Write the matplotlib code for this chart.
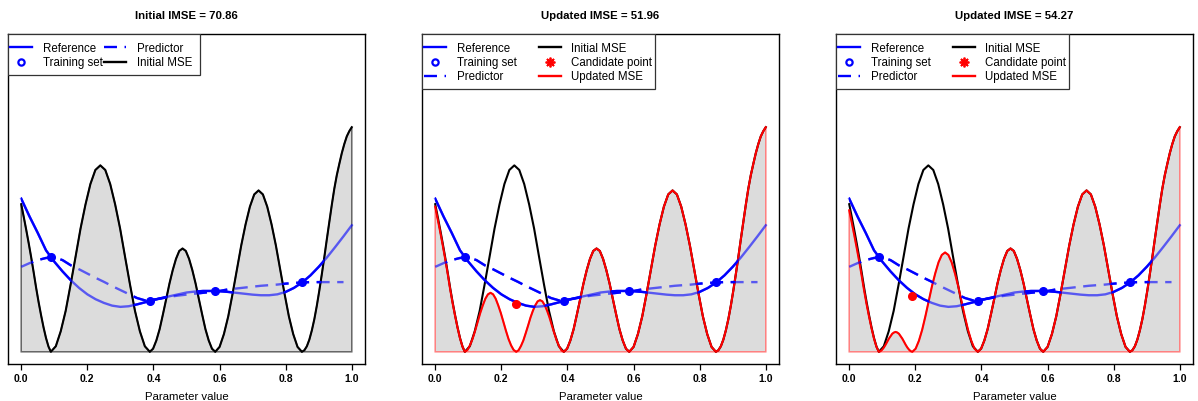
import matplotlib
matplotlib.use("Agg")
import matplotlib.pyplot as plt
from matplotlib.lines import Line2D
import numpy as np

plt.rcParams["font.family"] = ["Liberation Sans", "DejaVu Sans"]

# ---- data (normalised y) ----
titles = ["Initial IMSE = 70.86", "Updated IMSE = 51.96", "Updated IMSE = 54.27"]

train_x = [0.0896, 0.389, 0.587, 0.849]
train_y = [0.310, 0.167, 0.198, 0.227]

cand_x = [0.245, 0.191]
cand_y = [0.155, 0.183]

grid_x = [0.000, 0.025, 0.050, 0.075, 0.100, 0.125, 0.150, 0.175, 0.200, 0.225,
          0.250, 0.275, 0.300, 0.325, 0.350, 0.375, 0.400, 0.425, 0.450, 0.475,
          0.500, 0.525, 0.550, 0.575, 0.600, 0.625, 0.650, 0.675, 0.700, 0.725,
          0.750, 0.775, 0.800, 0.825, 0.850, 0.875, 0.900, 0.925, 0.950, 0.975,
          1.000]
reference = [0.501, 0.443, 0.389, 0.332, 0.295, 0.263, 0.234, 0.209, 0.188, 0.172,
             0.160, 0.151, 0.147, 0.149, 0.155, 0.162, 0.170, 0.176, 0.182, 0.188,
             0.194, 0.197, 0.199, 0.199, 0.198, 0.196, 0.193, 0.190, 0.187, 0.185,
             0.185, 0.188, 0.196, 0.209, 0.227, 0.250, 0.278, 0.309, 0.343, 0.378,
             0.414]
predictor = [0.278, 0.290, 0.300, 0.307, 0.309, 0.300, 0.283, 0.270, 0.256, 0.242,
             0.229, 0.215, 0.202, 0.189, 0.176, 0.168, 0.170, 0.175, 0.180, 0.184,
             0.187, 0.190, 0.193, 0.196, 0.199, 0.204, 0.207, 0.210, 0.213, 0.216,
             0.218, 0.220, 0.223, 0.225, 0.227, 0.228, 0.228, 0.228, 0.228, 0.228]

# initial MSE
mse0_x = [0.000, 0.0075, 0.015, 0.0225, 0.030, 0.0375, 0.045, 0.0525, 0.060, 0.0675,
          0.075, 0.0825,
          0.0896, 0.1046, 0.1195, 0.1345, 0.1494, 0.1644, 0.1794, 0.1944, 0.2093, 0.2243,
          0.2393, 0.2543, 0.2692, 0.2842, 0.2992, 0.3141, 0.3291, 0.3441, 0.3590, 0.3740,
          0.389, 0.3989, 0.4088, 0.4187, 0.4286, 0.4385, 0.4484, 0.4583, 0.4682, 0.4781,
          0.488, 0.4979, 0.5078, 0.5177, 0.5276, 0.5375, 0.5474, 0.5573, 0.5672, 0.5771,
          0.587, 0.6001, 0.6132, 0.6263, 0.6394, 0.6525, 0.6656, 0.6787, 0.6918, 0.7049,
          0.718, 0.7311, 0.7442, 0.7573, 0.7704, 0.7835, 0.7966, 0.8097, 0.8228, 0.8359,
          0.849, 0.8566, 0.8641, 0.8717, 0.8792, 0.8868, 0.8943, 0.9019, 0.9094, 0.9170,
          0.9245, 0.9321, 0.9396, 0.9472, 0.9547, 0.9623, 0.9698, 0.9774, 0.9849, 0.9925,
          1.000]
mse0_y = [0.483, 0.442, 0.400, 0.356, 0.310, 0.261, 0.210, 0.163, 0.120, 0.080,
          0.045, 0.017,
          0.000, 0.018, 0.067, 0.134, 0.220, 0.311, 0.403, 0.482, 0.549, 0.595,
          0.610, 0.595, 0.549, 0.482, 0.403, 0.311, 0.220, 0.134, 0.067, 0.018,
          0.000, 0.010, 0.037, 0.074, 0.122, 0.172, 0.223, 0.267, 0.304, 0.330,
          0.338, 0.330, 0.304, 0.267, 0.223, 0.172, 0.122, 0.074, 0.037, 0.010,
          0.000, 0.016, 0.058, 0.116, 0.190, 0.269, 0.348, 0.417, 0.475, 0.515,
          0.528, 0.515, 0.475, 0.417, 0.348, 0.269, 0.190, 0.116, 0.058, 0.016,
          0.000, 0.005, 0.018, 0.040, 0.070, 0.107, 0.151, 0.201, 0.254, 0.310,
          0.368, 0.425, 0.481, 0.534, 0.578, 0.615, 0.650, 0.680, 0.705, 0.722,
          0.735]

# updated MSE on [0, 0.389) (identical to the initial MSE afterwards)
mse1_x = [0.000, 0.0075, 0.015, 0.0225, 0.030, 0.0375, 0.045, 0.0525, 0.060, 0.0675,
          0.075, 0.0825,
          0.0896, 0.0974, 0.1051, 0.1129, 0.1207, 0.1285, 0.1362, 0.1440, 0.1518, 0.1595,
          0.1673, 0.1751, 0.1828, 0.1906, 0.1984, 0.2062, 0.2139, 0.2217, 0.2295, 0.2372,
          0.245, 0.2522, 0.2594, 0.2666, 0.2738, 0.2810, 0.2882, 0.2954, 0.3026, 0.3098,
          0.317, 0.3242, 0.3314, 0.3386, 0.3458, 0.3530, 0.3602, 0.3674, 0.3746, 0.3818]
mse1_y = [0.475, 0.434, 0.393, 0.350, 0.305, 0.257, 0.206, 0.160, 0.118, 0.079,
          0.044, 0.017,
          0.000, 0.006, 0.021, 0.042, 0.069, 0.098, 0.127, 0.152, 0.174, 0.188,
          0.193, 0.188, 0.174, 0.152, 0.127, 0.098, 0.069, 0.042, 0.021, 0.006,
          0.000, 0.005, 0.019, 0.037, 0.061, 0.086, 0.112, 0.134, 0.152, 0.165,
          0.169, 0.165, 0.152, 0.134, 0.112, 0.086, 0.061, 0.037, 0.019, 0.005]

mse2_x = [0.000, 0.0075, 0.015, 0.0225, 0.030, 0.0375, 0.045, 0.0525, 0.060, 0.0675,
          0.075, 0.0825,
          0.0896, 0.0947, 0.0997, 0.1048, 0.1099, 0.1150, 0.1200, 0.1251, 0.1302, 0.1352,
          0.1403, 0.1454, 0.1504, 0.1555, 0.1606, 0.1657, 0.1707, 0.1758, 0.1809, 0.1859,
          0.191, 0.2009, 0.2108, 0.2207, 0.2306, 0.2405, 0.2504, 0.2603, 0.2702, 0.2801,
          0.290, 0.2999, 0.3098, 0.3197, 0.3296, 0.3395, 0.3494, 0.3593, 0.3692, 0.3791]
mse2_y = [0.463, 0.424, 0.383, 0.341, 0.297, 0.250, 0.201, 0.156, 0.115, 0.077,
          0.043, 0.016,
          0.000, 0.002, 0.007, 0.014, 0.023, 0.033, 0.043, 0.051, 0.059, 0.063,
          0.065, 0.063, 0.059, 0.051, 0.043, 0.033, 0.023, 0.014, 0.007, 0.002,
          0.000, 0.010, 0.036, 0.072, 0.117, 0.166, 0.215, 0.257, 0.293, 0.317,
          0.325, 0.317, 0.293, 0.257, 0.215, 0.166, 0.117, 0.072, 0.036, 0.010]

BLUE = "#0000ff"
RED = "#ff0000"
DASH = (5.5, 3.2)


def full_mse(xs, ys):
    x0 = np.array(mse0_x)
    tail = x0 >= 0.389
    return np.r_[xs, x0[tail]], np.r_[ys, np.array(mse0_y)[tail]]


def runs_below(curve_x, curve_y, mx, my):
    # x-ranges where the MSE lies below the curve -> opaque part of the line
    xf = np.linspace(curve_x[0], curve_x[-1], 2001)
    d = np.interp(xf, curve_x, curve_y) - np.interp(xf, mx, my)
    m = d > 0
    out, start = [], None
    for i, v in enumerate(m):
        if v and start is None:
            start = xf[i]
        if not v and start is not None:
            out.append((start, xf[i]))
            start = None
    if start is not None:
        out.append((start, xf[-1]))
    return out


def shaded_line(ax, x, y, mx, my, ls):
    kw = dict(color=BLUE, lw=1.7, ls=ls, zorder=5)
    if ls == "--":
        kw["dashes"] = DASH
    ax.plot(x, y, alpha=0.6, **kw)
    for a, b in runs_below(x, y, mx, my):
        ln, = ax.plot(x, y, **kw)
        rect = plt.Rectangle((a, -1), b - a, 3, transform=ax.transData)
        ln.set_clip_path(rect)


fig = plt.figure(figsize=(11.98, 4.01), dpi=100)
lefts = [8, 422, 836]
upd = [None, (mse1_x, mse1_y), (mse2_x, mse2_y)]
AW, AH = 357.0, 330.0

for k in range(3):
    ax = fig.add_axes([lefts[k] / 1198, 37 / 401, AW / 1198, AH / 401])
    ax.set_xlim(-0.04, 1.04)
    ax.set_ylim(-0.04, 1.04)

    if upd[k] is None:
        cx, cy = np.array(mse0_x), np.array(mse0_y)
        edge = "#666666"
    else:
        cx, cy = full_mse(*upd[k])
        edge = "#ff8080"
    ax.fill(np.r_[cx, 1.0, 0.0], np.r_[cy, 0.0, 0.0], facecolor="#dcdcdc",
            edgecolor=edge, lw=1.1, zorder=1)
    ax.plot(mse0_x, mse0_y, color="black", lw=1.5, zorder=3)
    if upd[k] is not None:
        ax.plot(cx, cy, color=RED, lw=1.5, zorder=4)

    shaded_line(ax, grid_x, reference, cx, cy, "-")
    shaded_line(ax, grid_x[:len(predictor)], predictor, cx, cy, "--")
    ax.plot(train_x, train_y, "o", color=BLUE, ms=5.5, zorder=6)
    if k > 0:
        ax.plot(cand_x[k - 1], cand_y[k - 1], "o", color=RED, ms=5.5, zorder=6)

    ax.set_xticks([0.0, 0.2, 0.4, 0.6, 0.8, 1.0])
    ax.set_xticklabels(["0.0", "0.2", "0.4", "0.6", "0.8", "1.0"],
                       fontsize=7.5, fontweight="bold")
    ax.tick_params(axis="x", length=4, width=0.9, pad=3)
    ax.set_yticks([])
    for s in ax.spines.values():
        s.set_linewidth(1.0)
    ax.set_xlabel("Parameter value", fontsize=8.2, labelpad=6)
    ax.set_title(titles[k], fontsize=8.2, fontweight="bold", pad=11)

    h_ref = Line2D([], [], color=BLUE, lw=1.7)
    h_pred = Line2D([], [], color=BLUE, lw=1.7, ls="--", dashes=DASH)
    h_train = Line2D([], [], color=BLUE, ls="none", marker="o", ms=4.5,
                     mfc="none", mew=1.6)
    h_init = Line2D([], [], color="black", lw=1.7)
    if k == 0:
        handles = [h_ref, h_train, h_pred, h_init]
        labels = ["Reference", "Training set", "Predictor", "Initial MSE"]
        box_w, box_h, colsp = 192, 41, 0.1
    else:
        h_cand = Line2D([], [], color=RED, ls="none", marker=(8, 2, 0), ms=7, mew=1.3)
        h_upd = Line2D([], [], color=RED, lw=1.7)
        handles = [h_ref, h_train, h_pred, h_init, h_cand, h_upd]
        labels = ["Reference", "Training set", "Predictor",
                  "Initial MSE", "Candidate point", "Updated MSE"]
        box_w, box_h, colsp = 233, 55, 1.9
    frame = plt.Rectangle((0, 1 - box_h / AH), box_w / AW, box_h / AH,
                          transform=ax.transAxes, facecolor="white",
                          edgecolor="#333333", lw=0.9, zorder=9)
    ax.add_patch(frame)
    leg = ax.legend(handles, labels, ncol=2, loc="upper left",
                    bbox_to_anchor=(2 / AW, 1 - 8.5 / AH), borderaxespad=0,
                    borderpad=0, fontsize=8.3, frameon=False,
                    handlelength=1.95, handletextpad=0.9, columnspacing=colsp,
                    labelspacing=0.2)
    leg.set_zorder(10)

fig.savefig("out.png", dpi=100)
